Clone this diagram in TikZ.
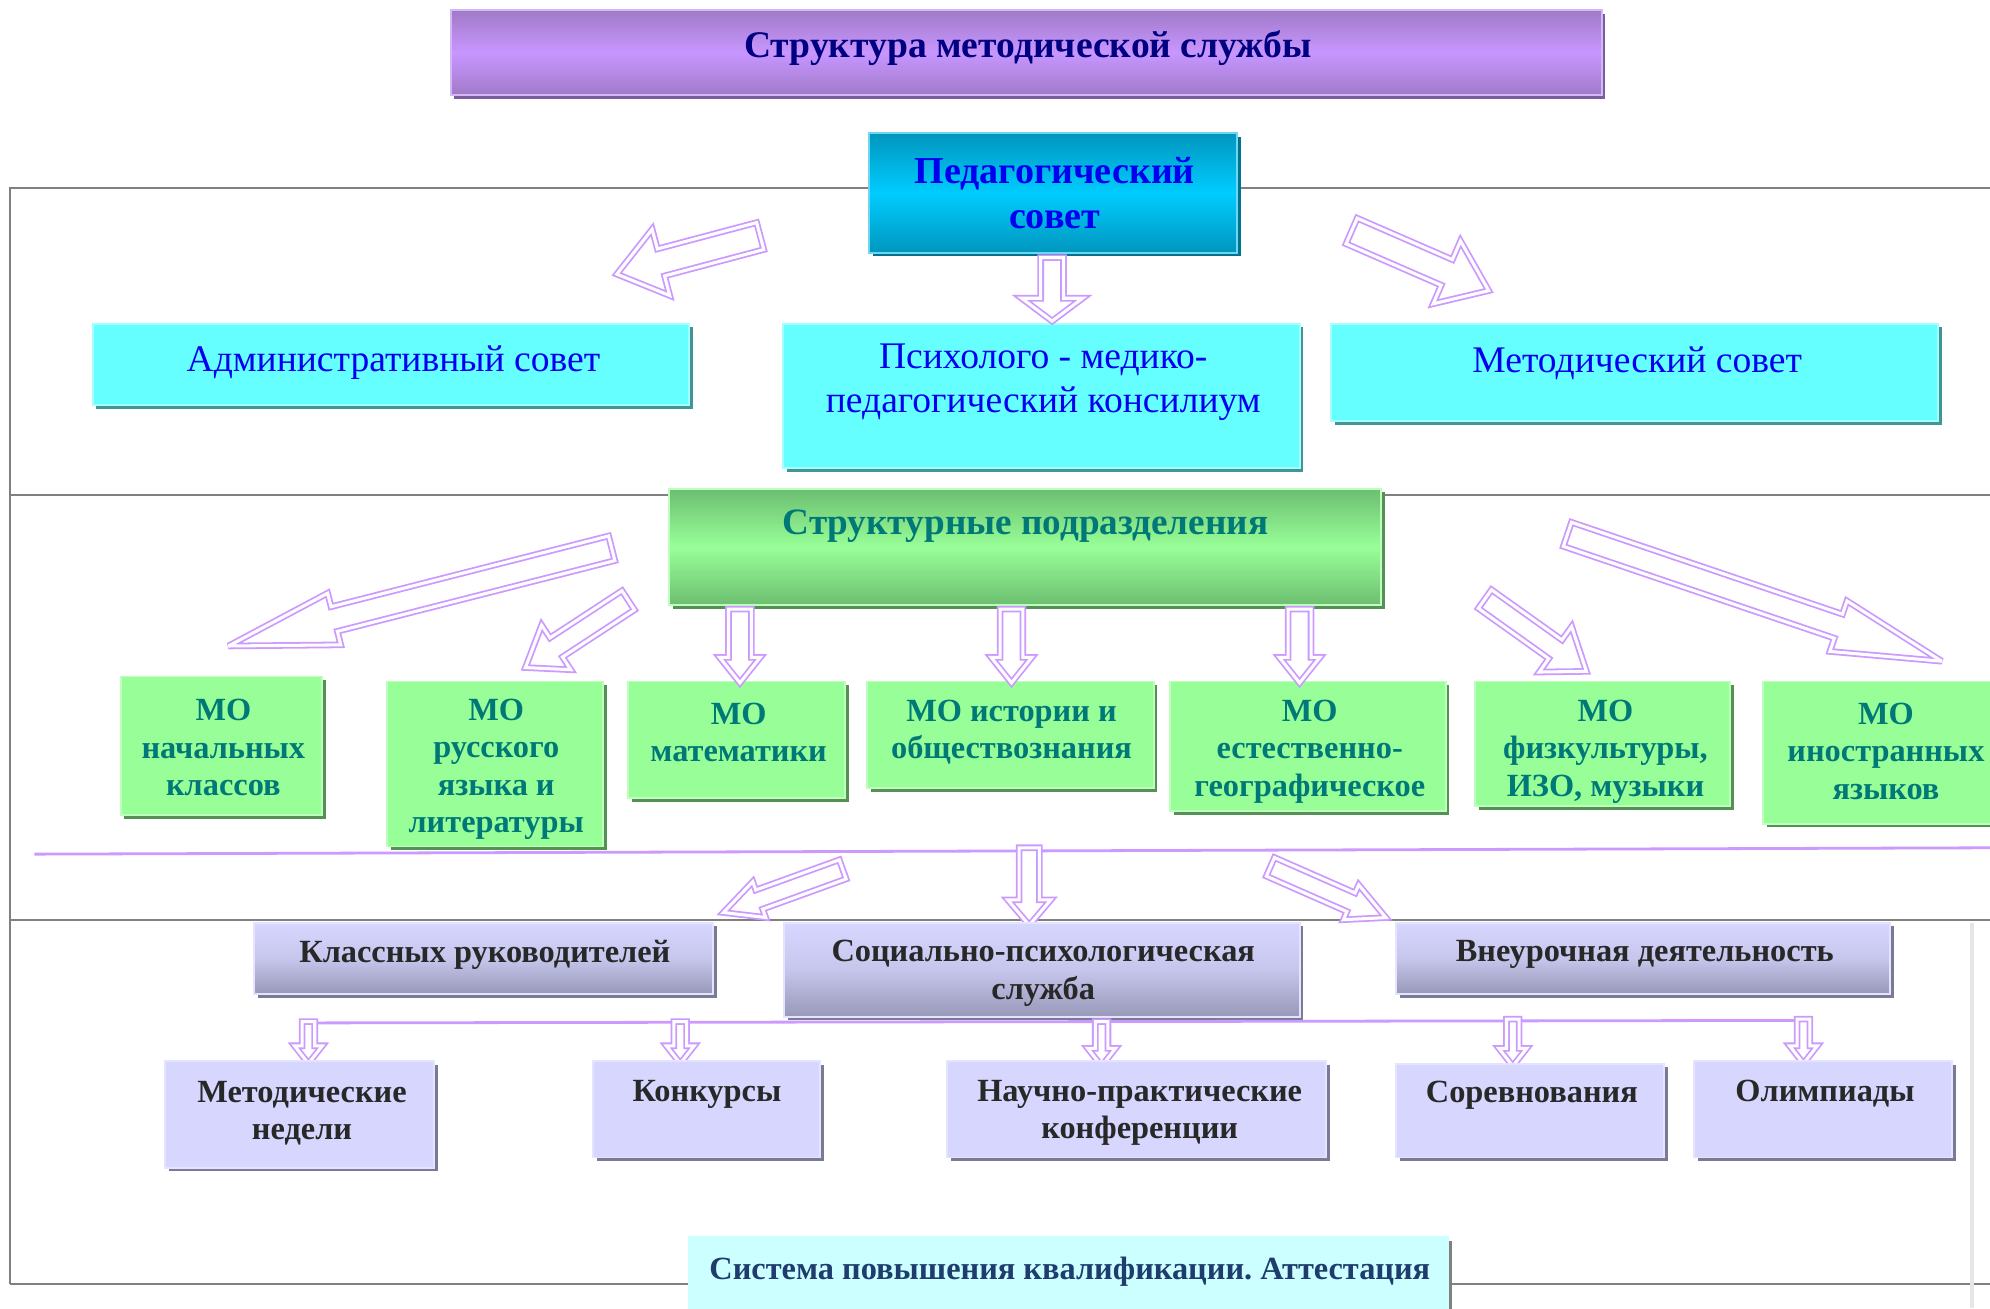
\documentclass[tikz,border=0pt]{standalone}
\usepackage{fontspec}
\setmainfont{Liberation Serif}
\usetikzlibrary{calc}
\definecolor{titletop}{RGB}{160,122,200}
\definecolor{titlemid}{RGB}{200,150,255}
\definecolor{titleedge}{RGB}{212,184,245}
\definecolor{titleshadow}{RGB}{122,92,160}
\definecolor{titletext}{RGB}{0,0,128}
\definecolor{pedtop}{RGB}{0,150,190}
\definecolor{pedmid}{RGB}{0,204,255}
\definecolor{pededge}{RGB}{110,215,240}
\definecolor{pedshadow}{RGB}{0,115,145}
\definecolor{cyanfill}{RGB}{102,255,255}
\definecolor{cyanedge}{RGB}{165,255,255}
\definecolor{cyanshadow}{RGB}{64,150,150}
\definecolor{bluetext}{RGB}{0,0,240}
\definecolor{greentop}{RGB}{108,190,112}
\definecolor{greenmid}{RGB}{152,255,152}
\definecolor{greenedge}{RGB}{190,255,190}
\definecolor{greenshadow}{RGB}{85,145,85}
\definecolor{tealtext}{RGB}{0,120,120}
\definecolor{lavtop}{RGB}{214,214,255}
\definecolor{lavbot}{RGB}{152,152,184}
\definecolor{lavedge}{RGB}{228,228,255}
\definecolor{lavshadow}{RGB}{122,122,150}
\definecolor{darktext}{RGB}{40,40,40}
\definecolor{botfill}{RGB}{204,255,255}
\definecolor{bottext}{RGB}{30,60,110}
\definecolor{arrowc}{RGB}{204,153,255}
\definecolor{framec}{RGB}{128,128,128}
\definecolor{faintc}{RGB}{230,230,230}
\newcommand{\fs}[2]{\fontsize{#1}{#2}\selectfont}
% box: name, x1, y1, x2, y2, style, shadow colour
\newcommand\bx[7]{%
  \fill[#7] (#2+3,#3+3) rectangle (#4+3,#5+3);
  \pgfmathsetmacro\bw{#4-#2}\pgfmathsetmacro\bh{#5-#3}%
  \node[#6, minimum width=\bw pt, minimum height=\bh pt, anchor=north west] (#1) at (#2,#3) {};}
% hollow block arrow: tail, tip, shaft half width, head half width, head length
\newcommand\barrow[5]{%
  \coordinate (ba) at (#1); \coordinate (bt) at (#2);
  \coordinate (bh) at ($(bt)!#5pt!(ba)$);
  \draw[harrow] ($(ba)!#3pt!90:(bt)$) -- ($(bh)!#3pt!90:(bt)$) -- ($(bh)!#4pt!90:(bt)$) -- (bt)
     -- ($(bh)!#4pt!-90:(bt)$) -- ($(bh)!#3pt!-90:(bt)$) -- ($(ba)!#3pt!-90:(bt)$) -- cycle;}
\begin{document}
\frenchspacing
\begin{tikzpicture}[x=1pt,y=-1pt,
  boxbase/.style={rectangle, inner sep=0pt, outer sep=0pt, line width=1.5pt},
  titlebox/.style={boxbase, draw=titleedge, top color=titletop, bottom color=titletop, middle color=titlemid},
  pedbox/.style={boxbase, draw=pededge, top color=pedtop, bottom color=pedtop, middle color=pedmid},
  cyanbox/.style={boxbase, draw=cyanedge, fill=cyanfill},
  greenbox/.style={boxbase, draw=greenedge, top color=greentop, bottom color=greentop, middle color=greenmid},
  mobox/.style={boxbase, draw=greenedge, fill=greenmid},
  lavgbox/.style={boxbase, draw=lavedge, top color=lavtop, bottom color=lavbot, middle color=lavtop!75!lavbot},
  lavbox/.style={boxbase, draw=lavedge, fill=lavtop},
  botbox/.style={boxbase, draw=botfill, fill=botfill},
  harrow/.style={draw=arrowc, line width=1.4pt, double=white, double distance=2.4pt, fill=white, line join=miter, miter limit=4},
  frame/.style={draw=framec, line width=1.6pt},
  pline/.style={draw=arrowc, line width=2.2pt},
  txt/.style={align=center, inner sep=0pt},
  ttl/.style={txt, font=\fs{29.6}{35}\bfseries, text=titletext},
  pedt/.style={txt, font=\fs{30}{35}\bfseries, text=bluetext},
  cyant/.style={txt, font=\fs{29.6}{35}, text=bluetext},
  greent/.style={txt, font=\fs{29.3}{34}\bfseries, text=tealtext},
  mot/.style={txt, font=\fs{25.5}{29.5}\bfseries, text=tealtext},
  lavt/.style={txt, font=\fs{25.5}{29.5}\bfseries, text=darktext},
  bott/.style={txt, font=\fs{25.5}{30}\bfseries, text=bottext}]
\useasboundingbox (0,0) rectangle (1568,1031);
\clip (0,0) rectangle (1568,1031);
\fill[white] (0,0) rectangle (1568,1031);

% frame lines
\draw[frame] (8,148) -- (1568,148);
\draw[frame] (8,147) -- (8,1012);
\draw[frame] (8,390) -- (1568,390);
\draw[frame] (8,725) -- (1568,725);
\draw[frame] (8,1012) -- (1568,1012);
\draw[draw=faintc, line width=3pt] (1554,727) -- (1554,1031);

% title
\bx{title}{355}{8}{1262}{75}{titlebox}{titleshadow}
\node[ttl] at (810,38) {Структура методической службы};

% pedagogical council
\bx{ped}{685}{105}{975}{199}{pedbox}{pedshadow}
\node[pedt] at (831,152) {Педагогический\\совет};

% second row
\bx{adm}{73}{255}{543}{319}{cyanbox}{cyanshadow}
\node[cyant] at (310,286) {Административный совет};
\bx{psy}{617}{255}{1024}{369}{cyanbox}{cyanshadow}
\node[cyant] at (822,301) {Психолого - медико-\\педагогический консилиум};
\bx{met}{1049}{255}{1527}{332}{cyanbox}{cyanshadow}
\node[cyant] at (1290,286) {Методический совет};

% arrows from pedagogical council
\barrow{599,186}{486,216}{11}{27}{36}
\barrow{829,203}{829,253}{9}{24}{18}
\barrow{1065,182}{1173,229}{11}{27}{36}

% structural units
\bx{str}{527}{385}{1088}{477}{greenbox}{greenshadow}
\node[greent] at (808,415) {Структурные подразделения};

% MO boxes
\bx{mo1}{95}{533}{254}{642}{mobox}{greenshadow}
\node[mot] at (176,589) {МО\\начальных\\классов};
\bx{mo2}{305}{537}{475}{667}{mobox}{greenshadow}
\node[mot] at (391,606) {МО\\русского\\языка и\\литературы};
\bx{mo3}{495}{537}{666}{629}{mobox}{greenshadow}
\node[mot] at (582,577) {МО\\математики};
\bx{mo4}{683}{537}{909}{621}{mobox}{greenshadow}
\node[mot] at (797,577) {МО истории и\\обществознания};
\bx{mo5}{922}{537}{1139}{639}{mobox}{greenshadow}
\node[mot] at (1032,592) {МО\\естественно-\\географическое};
\bx{mo6}{1162}{537}{1363}{635}{mobox}{greenshadow}
\node[mot] at (1265,592) {МО\\физкультуры,\\ИЗО, музыки};
\bx{mo7}{1389}{537}{1580}{649}{mobox}{greenshadow}
\node[mot] at (1486,592) {МО\\иностранных\\языков};

% arrows from structural units
\barrow{482,432}{180,509}{10}{21}{86}
\barrow{495,473}{414,526}{9}{21}{29}
\barrow{583,480}{583,538}{9}{16}{20}
\barrow{797,480}{797,538}{9}{16}{20}
\barrow{1024,480}{1024,538}{9}{16}{20}
\barrow{1170,472}{1250,529}{9}{22}{30}
\barrow{1235,421}{1530,521}{10}{21}{86}

% purple line
\draw[pline] (27,673) -- (1568,668);

% arrows to third level
\barrow{664,685}{570,719}{8}{15}{30}
\barrow{811,668}{811,729}{8}{17}{20}
\barrow{1001,683}{1092,723}{8}{15}{30}

% third level
\bx{kl}{200}{727}{562}{783}{lavgbox}{lavshadow}
\node[lavt] at (382,752) {Классных руководителей};
\bx{soc}{618}{727}{1024}{801}{lavgbox}{lavshadow}
\node[lavt] at (822,767) {Социально-психологическая\\служба};
\bx{vne}{1100}{727}{1489}{783}{lavgbox}{lavshadow}
\node[lavt] at (1296,752) {Внеурочная деятельность};

% lower purple line
\draw[pline] (237,806) -- (1425,804);

% small arrows
\barrow{243,805}{243,838}{5}{11}{14}
\barrow{536,805}{536,838}{5}{11}{14}
\barrow{868,805}{868,840}{5}{11}{14}
\barrow{1192,803}{1192,840}{5}{11}{14}
\barrow{1421,803}{1421,838}{5}{11}{14}

% fourth level
\bx{mn}{130}{836}{342}{920}{lavbox}{lavshadow}
\node[lavt] at (238,877) {Методические\\недели};
\bx{kon}{467}{836}{646}{912}{lavbox}{lavshadow}
\node[lavt] at (557,862) {Конкурсы};
\bx{npk}{746}{836}{1045}{912}{lavbox}{lavshadow}
\node[lavt] at (898,877) {Научно-практические\\конференции};
\bx{sor}{1100}{838}{1311}{912}{lavbox}{lavshadow}
\node[lavt] at (1207,863) {Соревнования};
\bx{oli}{1335}{836}{1538}{912}{lavbox}{lavshadow}
\node[lavt] at (1438,862) {Олимпиады};

% bottom
\bx{att}{543}{975}{1141}{1040}{botbox}{framec}
\node[bott] at (843,1002) {Система повышения квалификации. Аттестация};
\end{tikzpicture}
\end{document}
